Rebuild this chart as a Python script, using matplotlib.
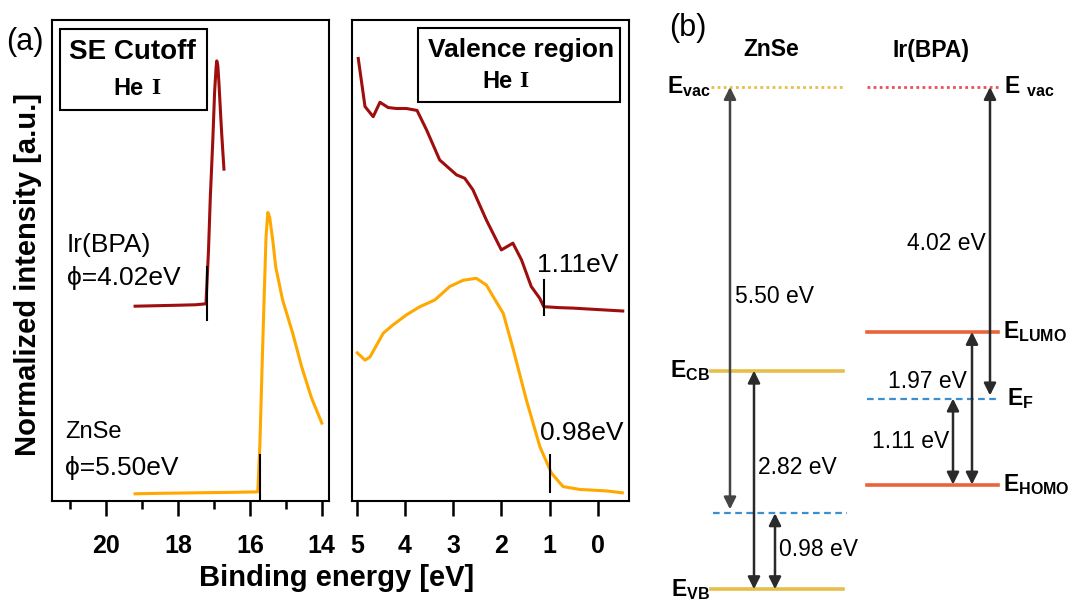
import matplotlib
matplotlib.use("Agg")
import matplotlib.pyplot as plt
from matplotlib.patches import Rectangle

plt.rcParams['font.family'] = ['Liberation Sans', 'DejaVu Sans']
plt.rcParams['mathtext.fontset'] = 'custom'
plt.rcParams['mathtext.bf'] = 'Liberation Sans:bold'
plt.rcParams['mathtext.rm'] = 'Liberation Sans'

# ---------------- data: SE cutoff (binding energy eV, normalized intensity)
se_ir_E = [19.19, 18.6, 18.0, 17.5, 17.22, 17.15, 17.10, 17.03, 16.98, 16.94, 16.92, 16.89, 16.86, 16.81, 16.78, 16.72]
se_ir_I = [0.405, 0.406, 0.407, 0.408, 0.410, 0.52, 0.63, 0.75, 0.85, 0.90, 0.915, 0.905, 0.87, 0.80, 0.76, 0.69]
se_zn_E = [19.19, 18.5, 17.5, 16.5, 15.78, 15.72, 15.66, 15.60, 15.55, 15.50, 15.45, 15.36, 15.28, 15.09, 14.81, 14.56, 14.29, 14.0]
se_zn_I = [0.015, 0.016, 0.017, 0.018, 0.019, 0.12, 0.28, 0.43, 0.55, 0.600, 0.590, 0.54, 0.486, 0.418, 0.349, 0.279, 0.215, 0.162]

# ---------------- data: valence region
va_ir_E = [4.97, 4.83, 4.66, 4.52, 4.35, 4.18, 3.97, 3.75, 3.55, 3.28, 2.93, 2.76, 2.59, 2.31, 2.00, 1.76, 1.58, 1.38, 1.20, 1.12, 0.80, 0.51, 0.0, -0.52]
va_ir_I = [0.920, 0.820, 0.799, 0.829, 0.818, 0.816, 0.816, 0.812, 0.771, 0.709, 0.678, 0.671, 0.647, 0.584, 0.522, 0.536, 0.501, 0.446, 0.421, 0.404, 0.402, 0.401, 0.398, 0.395]
va_zn_E = [4.99, 4.83, 4.73, 4.45, 4.25, 3.97, 3.69, 3.38, 3.07, 2.79, 2.52, 2.31, 2.17, 1.96, 1.75, 1.48, 1.20, 0.96, 0.72, 0.37, -0.18, -0.51]
va_zn_I = [0.308, 0.293, 0.299, 0.349, 0.366, 0.387, 0.404, 0.418, 0.446, 0.459, 0.463, 0.449, 0.425, 0.390, 0.314, 0.210, 0.113, 0.058, 0.030, 0.024, 0.021, 0.017]

se_cutoff_ir = 17.20
se_cutoff_zn = 15.72
vb_onset_ir = 1.11
vb_onset_zn = 0.98

se_major = [20, 18, 16, 14]
se_minor = [21, 19, 17, 15]
va_ticks = [5, 4, 3, 2, 1, 0]

# ---------------- energy diagram values (eV)
wf_zn = 5.50
vbm_zn = 0.98
gap_zn = 2.82
wf_ir = 4.02
homo_ir = 1.11
gap_ir = 1.97

RED = '#9E0E0E'
ORANGE = '#FFA800'
GOLD = '#E6BE4A'
ORRED = '#E8643A'
BLUE = '#3A8FD0'
ARROW = '#2a2a2a'

fig = plt.figure(figsize=(10.68, 5.99), dpi=100)
W, H = 1068, 599
ax1 = fig.add_axes([52 / W, 98 / H, 277 / W, 481 / H])
ax2 = fig.add_axes([352 / W, 98 / H, 277 / W, 481 / H])

for ax in (ax1, ax2):
    for s in ax.spines.values():
        s.set_linewidth(1.5)
    ax.set_ylim(0, 1)
    ax.set_yticks([])
    ax.tick_params(axis='x', which='major', direction='out', length=11, width=1.8, pad=13, labelsize=18)
    ax.tick_params(axis='x', which='minor', direction='out', length=6, width=1.8)

# ---- panel (a) left: SE cutoff
ax1.set_xlim(21.5, 13.8)
ax1.plot(se_ir_E, se_ir_I, color=RED, lw=2.2)
ax1.plot(se_zn_E, se_zn_I, color=ORANGE, lw=2.2)
ax1.set_xticks(se_major)
ax1.set_xticks(se_minor, minor=True)
ax1.set_xticklabels([str(t) for t in se_major], fontweight='bold')
ax1.plot([se_cutoff_ir, se_cutoff_ir], [0.376, 0.487], color='black', lw=1.5)
ax1.plot([se_cutoff_zn, se_cutoff_zn], [0.0, 0.096], color='black', lw=1.5)
ax1.set_ylabel('Normalized intensity [a.u.]', fontsize=21, fontweight='bold')
ax1.yaxis.set_label_coords(-0.035, 0.47)

ax1.add_patch(Rectangle((0.029, 0.813), 0.531, 0.168, transform=ax1.transAxes,
                        fill=False, lw=1.5, ec='black'))
ax1.text(0.292, 0.933, 'SE Cutoff', transform=ax1.transAxes, ha='center', va='center',
         fontsize=20, fontweight='bold')
ax1.text(0.330, 0.857, 'He', transform=ax1.transAxes, ha='right', va='center',
         fontsize=17, fontweight='bold')
ax1.text(0.357, 0.857, 'I', transform=ax1.transAxes, ha='left', va='center',
         fontsize=17, fontweight='bold', family='Liberation Serif')

ax1.text(0.054, 0.532, 'Ir(BPA)', transform=ax1.transAxes, ha='left', va='center', fontsize=19)
ax1.text(0.054, 0.464, '\u03d5=4.02eV', transform=ax1.transAxes, ha='left', va='center', fontsize=19)
ax1.text(0.047, 0.143, 'ZnSe', transform=ax1.transAxes, ha='left', va='center', fontsize=17)
ax1.text(0.047, 0.069, '\u03d5=5.50eV', transform=ax1.transAxes, ha='left', va='center', fontsize=19)

# ---- panel (a) right: valence
ax2.set_xlim(5.1, -0.65)
ax2.plot(va_ir_E, va_ir_I, color=RED, lw=2.2)
ax2.plot(va_zn_E, va_zn_I, color=ORANGE, lw=2.2)
ax2.set_xticks(va_ticks)
ax2.set_xticklabels([str(t) for t in va_ticks], fontweight='bold')
ax2.plot([vb_onset_ir, vb_onset_ir], [0.387, 0.459], color='black', lw=1.5)
ax2.plot([vb_onset_zn, vb_onset_zn], [0.019, 0.096], color='black', lw=1.5)
ax2.text(1.27, 0.49, '1.11eV', ha='left', va='center', fontsize=19)
ax2.text(1.20, 0.141, '0.98eV', ha='left', va='center', fontsize=19)

ax2.add_patch(Rectangle((0.238, 0.830), 0.730, 0.153, transform=ax2.transAxes,
                        fill=False, lw=1.5, ec='black'))
ax2.text(0.61, 0.938, 'Valence region', transform=ax2.transAxes, ha='center', va='center',
         fontsize=19, fontweight='bold')
ax2.text(0.578, 0.873, 'He', transform=ax2.transAxes, ha='right', va='center',
         fontsize=17, fontweight='bold')
ax2.text(0.605, 0.873, 'I', transform=ax2.transAxes, ha='left', va='center',
         fontsize=17, fontweight='bold', family='Liberation Serif')

fig.text(337 / W, 1 - 578 / H, 'Binding energy [eV]', ha='center', va='center',
         fontsize=21, fontweight='bold')
fig.text(25 / W, 1 - 42 / H, '(a)', ha='center', va='center', fontsize=22)

# ---- panel (b): energy diagram
ax3 = fig.add_axes([650 / W, 0, 418 / W, 1])
ax3.axis('off')
ax3.set_xlim(650, 1068)
ax3.set_ylim(-(599 - 87) / 77.5, 87 / 77.5)

evac = 0.0
ef_zn = evac - wf_zn
vb_zn = ef_zn - vbm_zn
cb_zn = vb_zn + gap_zn
ef_ir = evac - wf_ir
ho_ir = ef_ir - homo_ir
lu_ir = ho_ir + gap_ir

ZX = (711, 843)
IX = (867, 998)
ax3.plot(ZX, [evac, evac], color=GOLD, lw=2.0, ls=(0, (1, 1.2)))
ax3.plot(IX, [evac, evac], color='#E8505A', lw=2.0, ls=(0, (1, 1.2)))
ax3.plot(ZX, [cb_zn, cb_zn], color=GOLD, lw=2.6)
ax3.plot(ZX, [vb_zn, vb_zn], color=GOLD, lw=2.6)
ax3.plot((713, 847), [ef_zn, ef_zn], color=BLUE, lw=1.6, ls=(0, (3, 2)))
ax3.plot(IX, [lu_ir, lu_ir], color=ORRED, lw=2.6)
ax3.plot(IX, [ho_ir, ho_ir], color=ORRED, lw=2.6)
ax3.plot(IX, [ef_ir, ef_ir], color=BLUE, lw=1.6, ls=(0, (3, 2)))


def darrow(x, y1, y2, color=ARROW):
    ax3.annotate('', xy=(x, y1), xytext=(x, y2),
                 arrowprops=dict(arrowstyle='<|-|>', color=color, lw=1.8,
                                 mutation_scale=18, shrinkA=0, shrinkB=0))


darrow(730, evac, ef_zn + 0.05, color='#444444')
darrow(754, cb_zn, vb_zn)
darrow(775, ef_zn, vb_zn)
darrow(990, evac, ef_ir + 0.04)
darrow(972, lu_ir, ho_ir)
darrow(953, ef_ir, ho_ir)

tk = dict(fontsize=16.5, va='center')
ax3.text(735, (evac + ef_zn) / 2 + 0.05, '%.2f eV' % wf_zn, ha='left', **tk)
ax3.text(758, -(468 - 87) / 77.5, '%.2f eV' % gap_zn, ha='left', **tk)
ax3.text(779, -(550 - 87) / 77.5, '%.2f eV' % vbm_zn, ha='left', **tk)
ax3.text(986, -(243 - 87) / 77.5, '%.2f eV' % wf_ir, ha='right', **tk)
ax3.text(967, -(381 - 87) / 77.5, '%.2f eV' % gap_ir, ha='right', **tk)
ax3.text(949, -(441 - 87) / 77.5, '%.2f eV' % homo_ir, ha='right', **tk)

lk = dict(fontsize=16.5, va='center')
ax3.text(711, evac, r'$\mathbf{E_{vac}}$', ha='right', **lk)
ax3.text(710, cb_zn, r'$\mathbf{E_{CB}}$', ha='right', **lk)
ax3.text(710, vb_zn, r'$\mathbf{E_{VB}}$', ha='right', **lk)
ax3.text(1004, evac, r'$\mathbf{E}\ \mathbf{_{vac}}$', ha='left', **lk)
ax3.text(1003, lu_ir, r'$\mathbf{E_{LUMO}}$', ha='left', **lk)
ax3.text(1007, ef_ir, r'$\mathbf{E_{F}}$', ha='left', **lk)
ax3.text(1003, ho_ir, r'$\mathbf{E_{HOMO}}$', ha='left', **lk)

ax3.text(771, (87 - 50) / 77.5, 'ZnSe', ha='center', va='center', fontsize=16.5, fontweight='bold')
ax3.text(931, (87 - 50) / 77.5, 'Ir(BPA)', ha='center', va='center', fontsize=16.5, fontweight='bold')
ax3.text(688, (87 - 28) / 77.5, '(b)', ha='center', va='center', fontsize=22)

fig.savefig('out.png', dpi=100)
